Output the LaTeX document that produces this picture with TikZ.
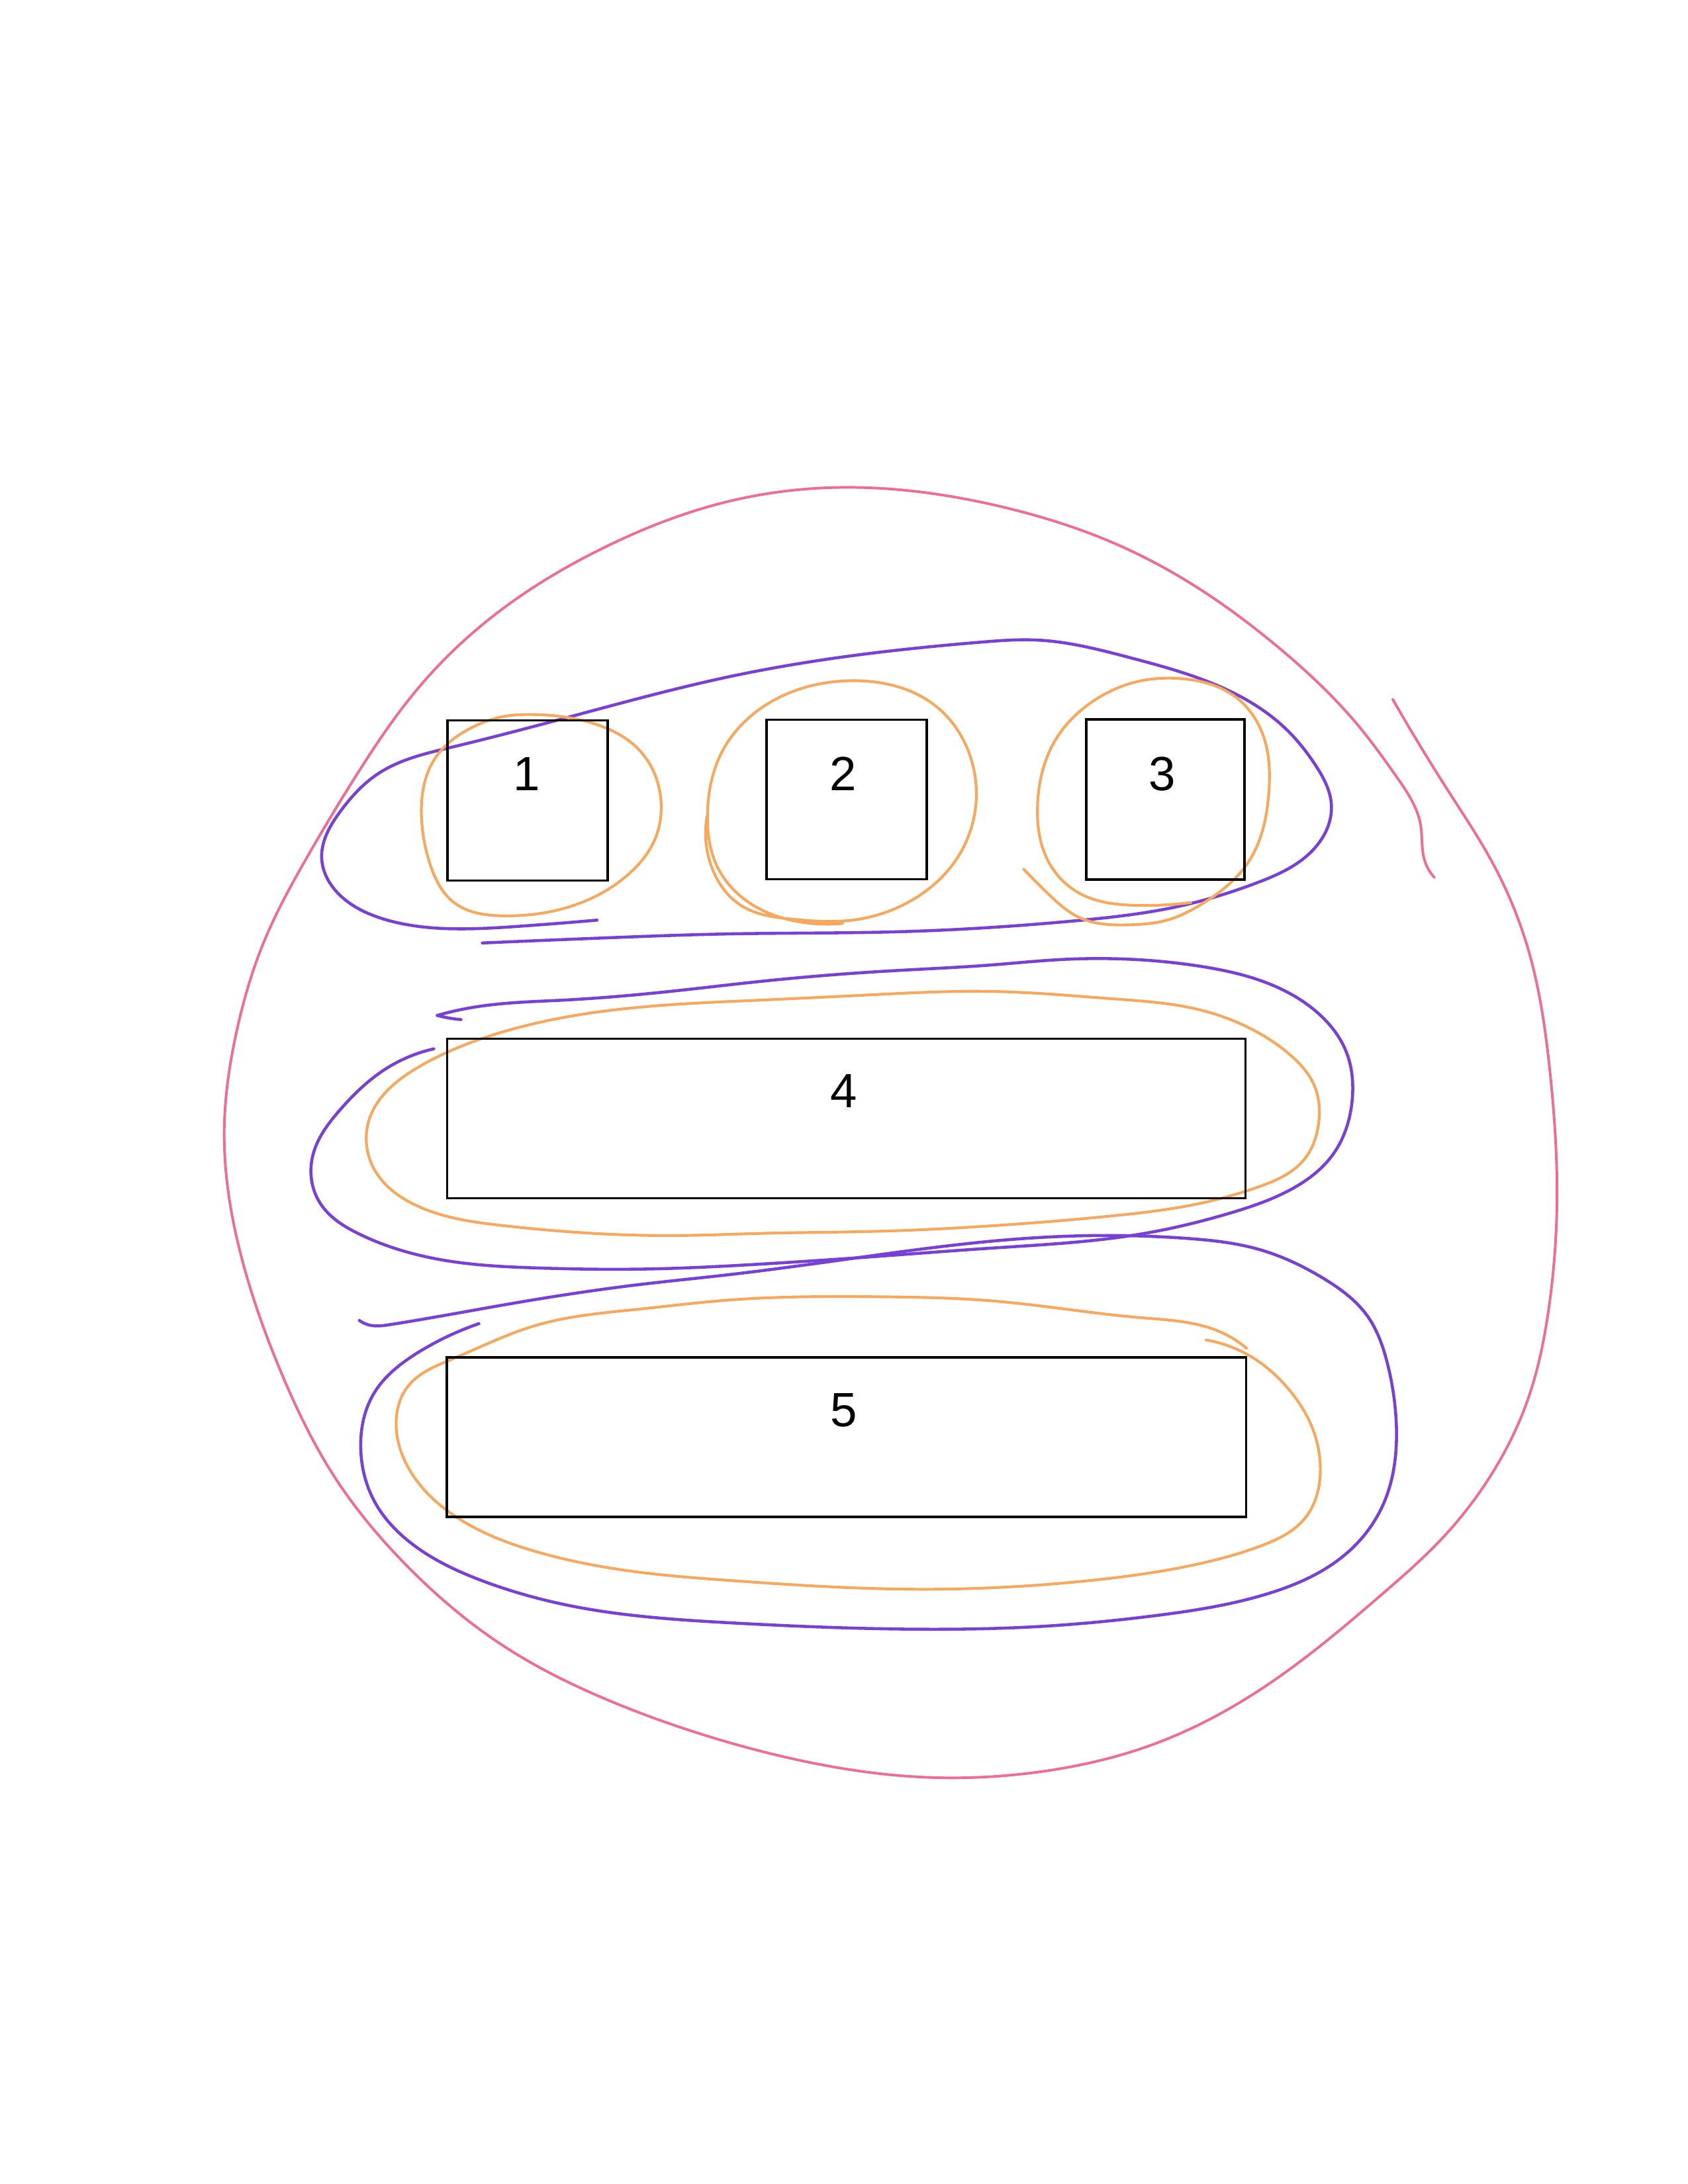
\documentclass[tikz,border=0pt]{standalone}
\usepackage{fontspec}
\setmainfont{Liberation Sans}
\usetikzlibrary{hobby}
\definecolor{pinkc}{RGB}{240,108,150}
\definecolor{purplec}{RGB}{120,64,212}
\definecolor{orangec}{RGB}{247,168,92}
\begin{document}
\begin{tikzpicture}[x=0.178135mm,y=-0.17819mm,
  boxsty/.style={draw=black, line width=0.9pt, inner sep=0pt, outer sep=0pt, fill=none},
  lblsty/.style={font=\fontsize{17.5}{21}\selectfont, inner sep=0pt, outer sep=0pt},
  pinkline/.style={draw=pinkc, line width=0.95pt, line cap=round, line join=round, use Hobby shortcut},
  purpline/.style={draw=purplec, line width=1.1pt, line cap=round, line join=round, use Hobby shortcut},
  orgline/.style={draw=orangec, line width=1.0pt, line cap=round, line join=round, use Hobby shortcut}]
\useasboundingbox (0,0) rectangle (1212,1568);

% pink outer circle
\draw[pinkline] (1000,502) .. (1040,568) .. (1072,620) .. (1098,684) .. (1113,770) .. (1118,860)
 .. (1112,940) .. (1098,1002) .. (1070,1060) .. (1035,1105) .. (993,1144) .. (911,1209) .. (829,1252)
 .. (747,1272) .. (665,1276) .. (590,1267) .. (520,1250) .. (440,1222) .. (362,1182) .. (292,1124)
 .. (240,1060) .. (203,988) .. (174,905) .. (161,812) .. (170,740) .. (190,675) .. (219,618) .. (255,558)
 .. (302,492) .. (361,437) .. (434,393) .. (523,360) .. (600,350) .. (650,352) .. (720,364)
 .. (800,390) .. (860,422) .. (917,464) .. (977,523) .. (1003,558) .. (1020,592) .. (1023,618) .. (1030,630);

% purple loop around 1,2,3
\draw[purpline] (428.7,660.6) .. (373,665) .. (324.5,666.8) .. (276,660) .. (244.4,643) .. (231,616.4) .. (244.4,582.5)
 .. (271,555.8) .. (324.5,536.4) .. (409.3,514.6) .. (522.8,486) .. (613.8,470.5) .. (704.7,461) .. (744,459.5)
 .. (810.8,472) .. (871.4,491) .. (923,523) .. (945,550) .. (956,578) .. (943,610) .. (902,634) .. (845,651)
 .. (773,661) .. (643,669) .. (522.8,670.5) .. (443.6,673) .. (346.3,677);

% purple loop around 4
\draw[purpline] (331,732) .. (318,730) .. (314,729);
\draw[purpline] (314,729) .. (341,723) .. (405,718) .. (479,712) .. (547,704.5) .. (640,697) .. (713,692.7)
 .. (760,689) .. (861,693.6) .. (904,703.6) .. (946,727) .. (967,756) .. (971,789) .. (957,829) .. (925,855)
 .. (883,871) .. (819,886) .. (713,896) .. (630,902) .. (547,907.5) .. (468,911) .. (385,910.3) .. (320,905)
 .. (258,886) .. (230,864) .. (224.5,830) .. (244,797) .. (276,768) .. (311.5,753);

% purple loop around 5
\draw[purpline] (258,948) .. (266,951.5) .. (280,951) .. (360.8,937) .. (457.8,922.4) .. (522.8,915.2) .. (630,901)
 .. (713,891) .. (798,887) .. (851,889) .. (904,897) .. (950.6,918) .. (982,945) .. (996,978) .. (1002.5,1020)
 .. (992.8,1081) .. (965.5,1116.4) .. (910.9,1144) .. (829,1160) .. (747,1167.7) .. (665,1169.7)
 .. (522.8,1165) .. (409.3,1152.8) .. (348.7,1135.8) .. (300.2,1111.6) .. (268.7,1077.6) .. (259,1038.8)
 .. (268.7,1000) .. (300.2,971) .. (343.9,950.3);

% orange loops
\draw[orgline, closed=true] (383,513) .. (428,520) .. (459.5,539) .. (474.5,573.5) .. (470.5,602) .. (452,627) .. (412,650)
 .. (361,657.5) .. (326,648) .. (309,621) .. (302.6,585) .. (312,545) .. (337.5,523) .. (364,514);

\draw[orgline] (507.7,586) .. (512,625) .. (532,650) .. (570,660) .. (608.5,661) .. (654.6,646.4) .. (686,618)
 .. (700.7,578) .. (697.8,546.6) .. (672,507) .. (614,488.7) .. (557,502) .. (519,538.7) .. (508,586)
 .. (514,620) .. (535,646) .. (575,662) .. (605,663);

\draw[orgline] (735,624) .. (752.5,641.6) .. (775.6,659) .. (810,664) .. (840,660) .. (862,649.6) .. (897,618)
 .. (911,570) .. (908,531) .. (888,501) .. (848,487.2) .. (816,489.5) .. (787,502) .. (758,531) .. (745,578)
 .. (752.5,618) .. (775.6,641.6) .. (816,650) .. (855,648);

\draw[orgline, closed=true] (546.6,718) .. (630,714) .. (713,711.8) .. (798,717) .. (861.5,725) .. (895,737) .. (926,757) .. (944,780)
 .. (947,805) .. (936,833) .. (904,852) .. (861.5,864) .. (798,873) .. (713,880) .. (630,884) .. (546.6,885.5)
 .. (490,887) .. (426,885.5) .. (362,880) .. (299,865.5) .. (269,840) .. (265,804) .. (299,767)
 .. (345,746) .. (426,727);

\draw[orgline] (866,962) .. (900,975) .. (925,997) .. (941,1022) .. (948,1058) .. (937,1090) .. (905,1110)
 .. (850,1125) .. (780,1135) .. (665,1141) .. (522.8,1134.6) .. (457.8,1128.6) .. (385,1114) .. (324.5,1087)
 .. (293,1053.4) .. (284.5,1019.4) .. (293,995.2) .. (324.5,975.8) .. (385,951.5) .. (457.8,940)
 .. (522.8,933.4) .. (630,931) .. (713,934) .. (819,946) .. (880,958) .. (895,968);

% boxes
\node[boxsty, minimum width=115*0.178135mm, minimum height=115*0.17819mm] (b1) at (378.8,574.7) {};
\node[boxsty, minimum width=115.2*0.178135mm, minimum height=114.5*0.17819mm] (b2) at (607.9,574) {};
\node[boxsty, minimum width=113.8*0.178135mm, minimum height=114.8*0.17819mm] (b3) at (836.8,573.9) {};
\node[boxsty, minimum width=573.3*0.178135mm, minimum height=114.4*0.17819mm] (b4) at (607.7,803) {};
\node[boxsty, minimum width=573.8*0.178135mm, minimum height=114.5*0.17819mm] (b5) at (607.9,1031.7) {};

% labels
\node[lblsty] (l1) at (378.4,555.6) {1};
\node[lblsty] (l2) at (605.5,555.6) {2};
\node[lblsty] (l3) at (834.6,555.6) {3};
\node[lblsty] (l4) at (606,783.5) {4};
\node[lblsty] (l5) at (606,1012.5) {5};
\end{tikzpicture}
\end{document}
